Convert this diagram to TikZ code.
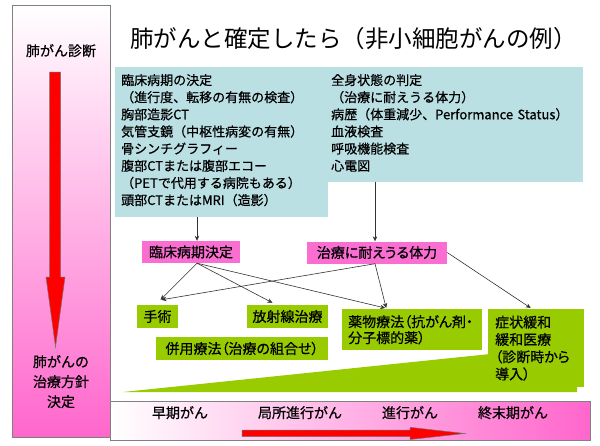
\documentclass[tikz,border=0pt]{standalone}
\usepackage{fontspec}
\newfontfamily\jp{Noto Sans CJK JP}
\newfontfamily\jpb{Noto Sans CJK JP}[FakeBold=0.6]
\newfontfamily\jpp{Noto Sans CJK JP}[RawFeature={+palt},FakeBold=0.6]
\usetikzlibrary{arrows.meta,calc}
\definecolor{pinkc}{RGB}{255,102,204}
\definecolor{boxpink}{RGB}{250,110,210}
\definecolor{tealc}{RGB}{187,224,228}
\definecolor{greenc}{RGB}{153,204,0}
\definecolor{redc}{RGB}{255,0,0}
\begin{document}
\begin{tikzpicture}[x=1pt,y=-1pt,
  lbl/.style={inner sep=0pt, font=\jpb\fontsize{14}{17}\selectfont},
  listtxt/.style={inner sep=0pt, anchor=base west, text width=205pt, align=left, font=\jpb\fontsize{13}{17.14}\selectfont},
  pinkbox/.style={fill=boxpink, inner sep=0pt, minimum height=22pt, font=\jpp\fontsize{14}{17}\selectfont},
  greenbox/.style={fill=greenc, inner sep=0pt, minimum height=23pt, font=\jpp\fontsize{14}{17}\selectfont},
  conn/.style={draw=black!80, line width=0.6pt, -{Stealth[length=5pt,width=4.5pt]}},
  redarrow/.style={fill=redc, draw=black!55, line width=0.5pt, line join=miter}
]
\useasboundingbox (0,0) rectangle (600,445);
\fill[white] (0,0) rectangle (600,445);

% left column
\path[draw=gray, line width=0.8pt, top color=white, bottom color=pinkc] (12,5) rectangle (110,437);
\node[lbl, anchor=base] (diag) at (61,56) {肺がん診断};
\node[lbl, anchor=base, text width=90pt, align=center, font=\jpb\fontsize{14}{20}\selectfont] (plan) at (61,367) {肺がんの\\治療方針\\決定};
\path[redarrow] (49.5,72) -- (60.5,72) -- (60.5,277) -- (65,277) -- (55.5,347) -- (46,277) -- (49.5,277) -- cycle;

% title
\node[inner sep=0pt, anchor=base west, font=\jp\fontsize{23.5}{28}\selectfont] (title) at (130,47) {肺がんと確定したら（非小細胞がんの例）};

% teal area
\fill[tealc] (115,67) rectangle (328,217);
\fill[tealc] (115,67) rectangle (583,181.5);
\coordinate (tealL) at (197,217);
\coordinate (tealR) at (375,181.5);
\node[listtxt] (stagetxt) at (121,85) {臨床病期の決定\\（進行度、転移の有無の検査）\\胸部造影CT\\気管支鏡（中枢性病変の有無）\\骨シンチグラフィー\\腹部CTまたは腹部エコー\\（PETで代用する病院もある）\\頭部CTまたはMRI（造影）};
\node[listtxt, text width=250pt] (bodytxt) at (331,85) {全身状態の判定\\（治療に耐えうる体力）\\病歴（体重減少、Performance Status）\\血液検査\\呼吸機能検査\\心電図};

% pink boxes
\node[pinkbox, minimum width=98pt] (cs) at (191,252) {臨床病期決定};
\node[pinkbox, minimum width=140pt] (ht) at (377,252.5) {治療に耐えうる体力};

% green wedge and boxes
\fill[greenc] (123,392) -- (577,345) -- (577,392) -- cycle;
\node[greenbox, minimum width=41pt] (jutsu) at (157.5,316.5) {手術};
\node[greenbox, minimum width=81pt] (rad) at (287.5,316.5) {放射線治療};
\node[greenbox, minimum width=172pt] (comb) at (242,348.5) {併用療法（治療の組合せ）};
\node[greenbox, anchor=north west, minimum width=140pt, minimum height=41pt, inner xsep=6pt, text width=128pt, align=left, font=\jpp\fontsize{14}{16}\selectfont] (drug) at (342,309) {薬物療法（抗がん剤・\\分子標的薬）};
\node[greenbox, anchor=north west, minimum width=89pt, minimum height=78pt, inner xsep=7pt, text width=82pt, align=left, font=\jpp\fontsize{14}{17.3}\selectfont] (sym) at (488,309) {症状緩和\\緩和医療\\（診断時から\\導入）};

% connectors
\draw[conn] (tealL) -- (cs.north -| tealL);
\draw[conn] (tealR) -- (ht.north -| tealR);
\draw[conn] (cs.south -| tealL) -- ([shift={(3,-5)}]jutsu.north);
\draw[conn] (cs.south -| tealL) -- ([shift={(-15,-2)}]rad.north);
\draw[conn] (cs.south -| tealL) -- ([shift={(-27,-1)}]drug.north);
\draw[conn] (ht.south -| tealR) -- ([shift={(4,-5)}]jutsu.north);
\draw[conn] (ht.south -| tealR) -- ([shift={(-26,-1)}]drug.north);
\draw[conn] (ht.east) -- ([shift={(-5.5,-1)}]sym.north);

% bottom bar
\path[draw=gray, line width=0.8pt, left color=white, right color=pinkc] (110,401) rectangle (590,440);
\node[lbl, anchor=base] (early) at (180,418) {早期がん};
\node[lbl, anchor=base] (local) at (300,418) {局所進行がん};
\node[lbl, anchor=base] (adv) at (410,418) {進行がん};
\node[lbl, anchor=base] (term) at (513,418) {終末期がん};
\path[redarrow] (242,430) -- (410,430) -- (410,427.3) -- (465,433.5) -- (410,439.5) -- (410,436.5) -- (242,436.5) -- cycle;
\end{tikzpicture}
\end{document}
